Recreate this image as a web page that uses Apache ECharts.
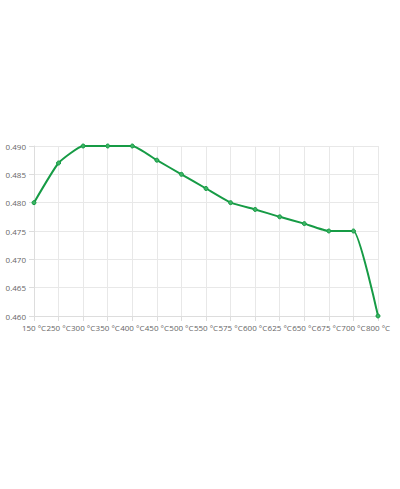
<!DOCTYPE html>
<html><head><meta charset="utf-8">
<script src="https://cdn.jsdelivr.net/npm/echarts@6/dist/echarts.min.js"></script>
<style>html,body{margin:0;background:#fff}#main{width:400px;height:489px}</style>
</head><body><div id="main"></div>
<script>
var temps = ['150 °C','250 °C','300 °C','350 °C','400 °C','450 °C','500 °C','550 °C','575 °C','600 °C','625 °C','650 °C','675 °C','700 °C','800 °C'];
var values = [0.480, 0.487, 0.490, 0.490, 0.490, 0.4875, 0.485, 0.4825, 0.480, 0.4788, 0.4775, 0.4763, 0.475, 0.475, 0.460];

var myChart = echarts.init(document.getElementById('main'), null, {renderer: 'svg'});
var option = {
    grid: {left: 34, right: 22, top: 146, bottom: 173},
    xAxis: {
        type: 'category',
        boundaryGap: false,
        data: temps,
        axisLine: {lineStyle: {color: '#ddd'}},
        axisTick: {show: true, length: 5, lineStyle: {color: '#ddd'}},
        axisLabel: {color: '#666', fontSize: 8, interval: 0, margin: 7, fontFamily: 'Open Sans'},
        splitLine: {show: true, lineStyle: {color: '#e8e8e8'}}
    },
    yAxis: {
        type: 'value',
        min: 0.460, max: 0.490, interval: 0.005,
        axisLine: {show: true, lineStyle: {color: '#ddd'}},
        axisTick: {show: true, length: 5, lineStyle: {color: '#ddd'}},
        axisLabel: {color: '#666', fontSize: 8, margin: 8, fontFamily: 'Open Sans',
            formatter: function (v) { return v.toFixed(3); }},
        splitLine: {lineStyle: {color: '#e8e8e8'}}
    },
    series: [{
        type: 'line',
        data: values,
        smooth: 0.15,
        symbol: 'circle',
        symbolSize: 4,
        lineStyle: {color: '#169b45', width: 2},
        itemStyle: {color: '#3cb464', borderColor: '#169b45', borderWidth: 1}
    }]
};
myChart.setOption(option);
</script></body></html>
